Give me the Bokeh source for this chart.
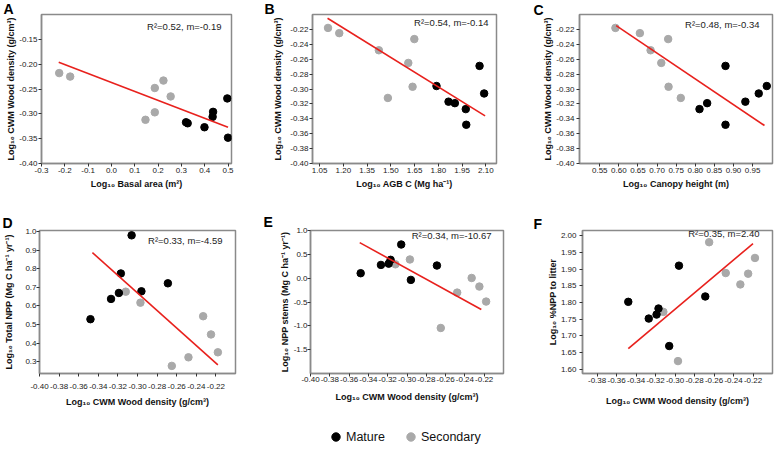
from bokeh.plotting import figure
from bokeh.models import Label, Title, FixedTicker, Range1d, Legend, LegendItem, PrintfTickFormatter
from bokeh.layouts import row, column
from bokeh.embed import file_html
from bokeh.resources import INLINE

FONT = "Liberation Sans"
MATURE_COLOR = "#000000"
SECONDARY_COLOR = "#a9a9a9"
FIT_COLOR = "#e8211d"

# ---- data ----
# CWM wood density (log10), one value per plot, shared by all panels
wd_mature = [-0.348, -0.327, -0.319, -0.317, -0.306, -0.296, -0.269]
wd_secondary = [-0.312, -0.297, -0.265, -0.248, -0.233, -0.225, -0.218]

basal_mature = [0.500, 0.399, 0.327, 0.320, 0.434, 0.436, 0.497]
basal_secondary = [0.146, 0.186, 0.254, 0.186, 0.223, -0.177, -0.224]

agb_mature = [1.976, 1.973, 1.904, 1.864, 2.089, 1.788, 2.060]
agb_secondary = [1.481, 1.637, 1.610, 1.424, 1.648, 1.174, 1.103]

canopy_mature = [0.879, 0.811, 0.831, 0.931, 0.966, 0.987, 0.879]
canopy_secondary = [0.762, 0.730, 0.711, 0.683, 0.729, 0.655, 0.591]

npp_mature = [0.528, 0.637, 0.669, 0.774, 0.979, 0.678, 0.721]
npp_secondary = [0.676, 0.617, 0.277, 0.323, 0.544, 0.446, 0.350]

stems_mature = [0.104, 0.278, 0.305, 0.385, 0.706, -0.036, 0.265]
stems_secondary = [0.291, 0.392, -1.045, -0.303, 0.004, -0.176, -0.491]

litter_mature = [1.802, 1.752, 1.764, 1.782, 1.670, 1.910, 1.818]
litter_secondary = [1.772, 1.625, 1.980, 1.888, 1.854, 1.886, 1.933]

# regression lines (end points)
fit_A_x, fit_A_y = [-0.226, 0.500], [-0.196, -0.327]
fit_B_x, fit_B_y = [1.100, 2.095], [-0.205, -0.336]
fit_C_x, fit_C_y = [0.593, 0.981], [-0.215, -0.349]
fit_D_x, fit_D_y = [-0.346, -0.218], [0.886, 0.282]
fit_E_x, fit_E_y = [-0.349, -0.223], [0.746, -0.658]
fit_F_x, fit_F_y = [-0.348, -0.220], [1.662, 1.976]

stats = ["R\u00b2=0.52, m=-0.19", "R\u00b2=0.54, m=-0.14", "R\u00b2=0.48, m=-0.34",
         "R\u00b2=0.33, m=-4.59", "R\u00b2=0.34, m=-10.67", "R\u00b2=0.35, m=2.40"]

# tick values
ticks_basal = [-0.3, -0.2, -0.1, 0.0, 0.1, 0.2, 0.3, 0.4, 0.5]
ticks_wd_A = [-0.40, -0.35, -0.30, -0.25, -0.20, -0.15]
ticks_agb = [1.05, 1.20, 1.35, 1.50, 1.65, 1.80, 1.95, 2.10]
ticks_wd_BC = [-0.40, -0.38, -0.36, -0.34, -0.32, -0.30, -0.28, -0.26, -0.24, -0.22]
ticks_canopy = [0.55, 0.60, 0.65, 0.70, 0.75, 0.80, 0.85, 0.90, 0.95]
ticks_wd_x = [-0.40, -0.38, -0.36, -0.34, -0.32, -0.30, -0.28, -0.26, -0.24, -0.22]
ticks_npp = [0.3, 0.4, 0.5, 0.6, 0.7, 0.8, 0.9, 1.0]
ticks_stems = [-1.5, -1.0, -0.5, 0.0, 0.5, 1.0]
ticks_litter = [1.60, 1.65, 1.70, 1.75, 1.80, 1.85, 1.90, 1.95, 2.00]

WD_TITLE = "Log\u2081\u2080 CWM Wood density (g/cm\u00b3)"


def make_panel(width, height, border, x_range, y_range, x_ticks, y_ticks, x_fmt, y_fmt,
               x_title, y_title, xm, ym, xs, ys, fit_x, fit_y, stat, letter,
               letter_offset, letter_standoff, stat_pos, x_std, y_std):
    bl, br, bt, bb = border
    p = figure(width=width, height=height, output_backend="svg", toolbar_location=None,
               x_range=Range1d(*x_range), y_range=Range1d(*y_range),
               min_border_left=bl, min_border_right=br, min_border_top=bt,
               min_border_bottom=bb)
    p.grid.visible = False
    p.outline_line_color = "#8a8a8a"
    p.outline_line_width = 1.5
    p.background_fill_color = "white"
    p.border_fill_color = "white"

    for ax, ticks, fmt, title, (lstd, tstd) in (
            (p.xaxis[0], x_ticks, x_fmt, x_title, x_std),
            (p.yaxis[0], y_ticks, y_fmt, y_title, y_std)):
        ax.ticker = FixedTicker(ticks=ticks)
        ax.formatter = PrintfTickFormatter(format=fmt)
        ax.axis_line_color = "#8a8a8a"
        ax.axis_line_width = 1.5
        ax.major_tick_line_color = "#333333"
        ax.major_tick_out = 3
        ax.major_tick_in = 0
        ax.minor_tick_line_color = None
        ax.major_label_text_font = FONT
        ax.major_label_text_font_size = "8px"
        ax.major_label_text_color = "#222222"
        ax.major_label_standoff = lstd
        ax.axis_label = title
        ax.axis_label_text_font = FONT
        ax.axis_label_text_font_size = "9px"
        ax.axis_label_text_font_style = "bold"
        ax.axis_label_text_color = "#111111"
        ax.axis_label_standoff = tstd

    p.scatter(xs, ys, size=7.5, fill_color=SECONDARY_COLOR, line_color=SECONDARY_COLOR)
    p.scatter(xm, ym, size=7.5, fill_color=MATURE_COLOR, line_color=MATURE_COLOR)
    p.line(fit_x, fit_y, line_color=FIT_COLOR, line_width=1.6)

    # panel letter as a title above the frame, pulled left of the frame edge
    p.add_layout(Title(text=letter, align="left", vertical_align="bottom",
                       offset=letter_offset, standoff=letter_standoff,
                       text_font=FONT, text_font_size="14px", text_font_style="bold",
                       text_color="#000000"), "above")

    fw = width - bl - br
    fh = height - bt - bb
    inset, gap = stat_pos
    p.add_layout(Label(x=fw - inset, y=fh - gap, x_units="screen", y_units="screen",
                       text=stat, text_font=FONT, text_font_size="9.5px",
                       text_color="#222222", text_baseline="alphabetic", text_align="right"))
    return p


pA = make_panel(258, 210, (41, 27, 14, 47), (-0.3, 0.515), (-0.40, -0.10),
                ticks_basal, ticks_wd_A, "%.1f", "%.2f",
                "Log\u2081\u2080 Basal area (m\u00b2)", WD_TITLE,
                basal_mature, wd_mature, basal_secondary, wd_secondary,
                fit_A_x, fit_A_y, stats[0], "A", -38, -5, (10, 12), (1, 3), (1, 0))

pB = make_panel(258, 210, (54, 20, 14, 47), (1.005, 2.167), (-0.40, -0.20),
                ticks_agb, ticks_wd_BC, "%.2f", "%.2f",
                "Log\u2081\u2080 AGB C (Mg ha\u207b\u00b9)", WD_TITLE,
                agb_mature, wd_mature, agb_secondary, wd_secondary,
                fit_B_x, fit_B_y, stats[1], "B", -48, -5, (8, 8), (1, 3), (1, 4))

pC = make_panel(258, 210, (63, 2, 14, 47), (0.497, 1.002), (-0.40, -0.20),
                ticks_canopy, ticks_wd_BC, "%.2f", "%.2f",
                "Log\u2081\u2080 Canopy height (m)", WD_TITLE,
                canopy_mature, wd_mature, canopy_secondary, wd_secondary,
                fit_C_x, fit_C_y, stats[2], "C", -46, -6, (13, 10), (1, 3), (2, 0))

pD = make_panel(258, 210, (39, 23, 19, 47), (-0.40, -0.20), (0.236, 1.005),
                ticks_wd_x, ticks_npp, "%.2f", "%.1f",
                WD_TITLE, "Log\u2081\u2080 Total NPP (Mg C ha\u207b\u00b9 yr\u207b\u00b9)",
                wd_mature, npp_mature, wd_secondary, npp_secondary,
                fit_D_x, fit_D_y, stats[3], "D", -37, 0, (13, 11), (7, 5), (0, 8))

pE = make_panel(258, 210, (52, 13, 20, 40), (-0.40, -0.20), (-2.0, 1.0),
                ticks_wd_x, ticks_stems, "%.2f", "%.1f",
                WD_TITLE, "Log\u2081\u2080 NPP stems (Mg C ha\u207b\u00b9 yr\u207b\u00b9)",
                wd_mature, stems_mature, wd_secondary, stems_secondary,
                fit_E_x, fit_E_y, stats[4], "E", -47, 1, (12, 12), (0, 7), (0, 1))

pF = make_panel(258, 210, (66, 2, 19, 42), (-0.395, -0.20), (1.588, 2.015),
                ticks_wd_x, ticks_litter, "%.2f", "%.2f",
                WD_TITLE, "Log\u2081\u2080 %NPP to litter",
                wd_mature, litter_mature, wd_secondary, litter_secondary,
                fit_F_x, fit_F_y, stats[5], "F", -49, -2, (13, 9), (1, 10), (3, 0))

# ---- legend strip (its renderers hold real data that lies outside this strip's ranges) ----
pL = figure(width=774, height=30, output_backend="svg", toolbar_location=None,
            x_range=Range1d(0, 1), y_range=Range1d(0, 1),
            x_axis_location=None, y_axis_location=None,
            min_border_left=0, min_border_right=0, min_border_top=0, min_border_bottom=0)
pL.grid.visible = False
pL.outline_line_color = None
rM = pL.scatter(wd_mature, npp_mature, size=8.5, fill_color=MATURE_COLOR, line_color=MATURE_COLOR)
rS = pL.scatter(wd_secondary, npp_secondary, size=8.5, fill_color=SECONDARY_COLOR,
                line_color=SECONDARY_COLOR)
legend = Legend(items=[LegendItem(label="Mature", renderers=[rM]),
                       LegendItem(label="Secondary", renderers=[rS])],
                orientation="horizontal", location=(325, 3),
                border_line_color=None, background_fill_alpha=0,
                padding=0, margin=0, spacing=15, glyph_width=21, glyph_height=21,
                label_standoff=-3, label_text_font=FONT, label_text_font_size="12.5px",
                label_text_color="#111111")
pL.add_layout(legend)

layout = column(row(pA, pB, pC), row(pD, pE, pF), pL)
open("out.html", "w").write(file_html(layout, INLINE))
